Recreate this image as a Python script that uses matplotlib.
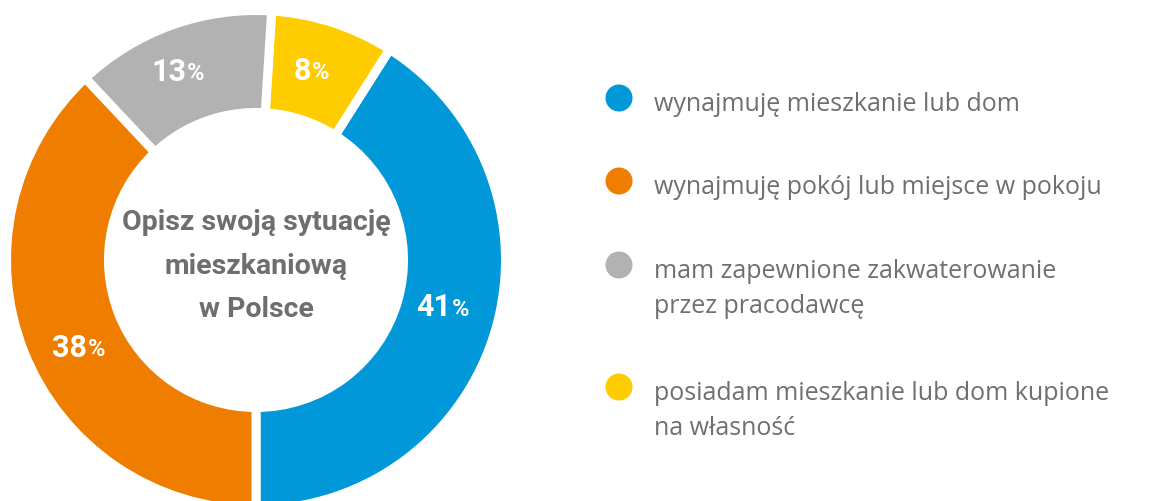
import matplotlib.pyplot as plt

# data
labels = ['wynajmuję mieszkanie lub dom',
          'wynajmuję pokój lub miejsce w pokoju',
          'mam zapewnione zakwaterowanie\nprzez pracodawcę',
          'posiadam mieszkanie lub dom kupione\nna własność']
shares = [41, 38, 13, 8]
colors = ['#0098d8', '#ef7d00', '#b2b2b2', '#ffcc00']
title = 'Opisz swoją sytuację\nmieszkaniową\nw Polsce'

# pie order (counter-clockwise starting at the bottom): blue, yellow, gray, orange
pie_order = [0, 3, 2, 1]
# small nudges of the % labels (pixels, x right / y up), same order as pie_order
nudge = [(-3, 8), (-15, 2), (-12, 3), (5, -15)]

narrow = ['Roboto', 'DejaVu Sans']

fig = plt.figure(figsize=(11.63, 5.01), dpi=100)
ax = fig.add_axes([0, 0, 1, 1])

lw = 6.5
wedges, texts, autotexts = ax.pie(
    [shares[i] for i in pie_order],
    colors=[colors[i] for i in pie_order],
    startangle=-90, counterclock=True,
    radius=249.5, center=(256, 241),
    wedgeprops=dict(width=102, edgecolor='white', linewidth=lw),
    autopct='%.0f', pctdistance=0.79,
    textprops=dict(color='white', fontsize=22, fontweight='bold', family=narrow))

for t, (dx, dy) in zip(autotexts, nudge):
    t.set_ha('right')
    x, y = t.get_position()
    t.set_position((x + 9 + dx, y + dy))
    ax.annotate('%', xy=(1, 0), xycoords=t, xytext=(0.5, 1.0), textcoords='offset points',
                ha='left', va='bottom', color='white', fontsize=17, fontweight='bold',
                family=narrow)

ax.text(256, 235, title, ha='center', va='center', fontsize=20.5, fontweight='bold',
        color='#6e6e6e', family=narrow, linespacing=1.8)

# legend
leg_y = [98, 181, 265, 387]
for lab, c, yy in zip(labels, colors, leg_y):
    ax.scatter([619], [501 - yy], s=27 ** 2 * 0.52, color=c, edgecolor='none')
    ax.text(654, 501 - yy + 6, lab, ha='left', va='top', fontsize=18, color='#6f6f6f',
            family='Open Sans', linespacing=1.55)

ax.set_xlim(0, 1163)
ax.set_ylim(0, 501)
ax.set_aspect('equal')
ax.axis('off')

fig.savefig('out.png', dpi=100, facecolor='white')
